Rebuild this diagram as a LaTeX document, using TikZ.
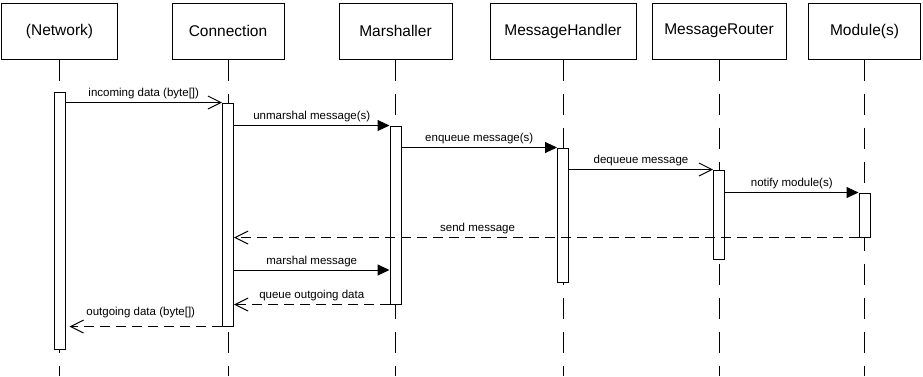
\documentclass[tikz,border=0pt]{standalone}
\usepackage{fontspec}
\setmainfont{Liberation Sans}
\usetikzlibrary{arrows.meta}

\begin{document}
\begin{tikzpicture}[x=1pt, y=1pt,
		lifeline/.style = {line width=1pt, dash pattern=on 21pt off 13pt}]
	\useasboundingbox (0,0) rectangle (923,-376);
	\coordinate (bottom) at (0,-376);
	\coordinate (m7) at (0,-270);
	\begin{scope}[every node/.style = {rectangle, draw, line width=1pt,
			minimum height=56pt, font=\fontsize{15.5}{18}\selectfont}]
		\node[minimum width=116pt] (net) at (59.5,-31) {(Network)};
		\node[minimum width=112pt] (con) at (228,-31) {Connection};
		\node[minimum width=113pt] (mar) at (395.5,-31) {Marshaller};
		\node[minimum width=146pt] (mh) at (563,-31) {MessageHandler};
		\node[minimum width=134pt] (mr) at (719,-31) {MessageRouter};
		\node[minimum width=112pt] (mod) at (864.5,-31) {Module(s)};
	\end{scope}
	\draw[lifeline] (net.south) -- (net.south |- bottom);
	\draw[lifeline] (con.south) -- (con.south |- bottom);
	\draw[lifeline] (mar.south) -- (mar.south |- bottom);
	\draw[lifeline] (mh.south) -- (mh.south |- bottom);
	\draw[lifeline] (mr.south) -- (mr.south |- bottom);
	\draw[lifeline] (mod.south) -- (mod.south |- bottom);
	\begin{scope}[every node/.style = {rectangle, draw, fill=white, line width=1pt,
			minimum width=11pt, inner sep=0pt}]
		\node[minimum height=257pt] (netbar) at (59.5,-220.5) {};
		\node[minimum height=223pt] (conbar) at (228,-214.5) {};
		\node[minimum height=178pt] (marbar) at (395.5,-215) {};
		\node[minimum height=134pt] (mhbar) at (563,-215) {};
		\node[minimum height=89pt] (mrbar) at (719,-214.5) {};
		\node[minimum height=44pt] (modbar) at (864.5,-215) {};
	\end{scope}
	\begin{scope}[every edge/.style = {draw, line width=1pt},
			call/.style = {-{Triangle[length=12pt,width=11pt]}},
			async/.style = {-{Straight Barb[length=13pt,width=13pt]}},
			reply/.style = {async, dash pattern=on 10pt off 6pt},
			every node/.style = {above, midway, inner sep=3pt,
				font=\fontsize{11.5}{13}\selectfont}]
		\path (netbar.east |- conbar.north) edge[async] node {incoming data (byte[])} (conbar.north west);
		\path (conbar.east |- marbar.north) edge[call] node {unmarshal message(s)} (marbar.north west);
		\path (marbar.east |- mhbar.north) edge[call] node {enqueue message(s)} (mhbar.north west);
		\path (mhbar.east |- mrbar.north) edge[async] node {dequeue message} (mrbar.north west);
		\path (mrbar.east |- modbar.north) edge[call] node {notify module(s)} (modbar.north west);
		\path (modbar.south west) edge[reply] node[pos=0.61] {send message} (conbar.east |- modbar.south);
		\path (conbar.east |- m7) edge[call] node {marshal message} (marbar.west |- m7);
		\path (marbar.south west) edge[reply] node {queue outgoing data} (conbar.east |- marbar.south);
		\path (conbar.south west) edge[reply, shorten >=4pt] node[yshift=5pt, xshift=-3pt] {outgoing data (byte[])} (netbar.east |- conbar.south);
	\end{scope}
\end{tikzpicture}
\end{document}
